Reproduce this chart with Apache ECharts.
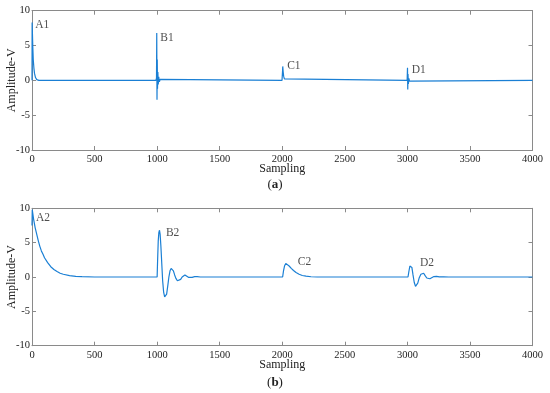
<!DOCTYPE html>
<html>
<head>
<meta charset="utf-8">
<script src="https://cdn.jsdelivr.net/npm/echarts@6/dist/echarts.min.js"></script>
<style>html,body{margin:0;padding:0;background:#fff;}#c{width:550px;height:393px;}</style>
</head>
<body>
<div id="c"></div>
<script>
// ---- data (sample index, amplitude) ----
const signalA = [
  [0,0],[1,8.3],[3,7],[6,5],[10,3],[15,1.8],[20,1],[28,0.4],[38,0.1],[55,0],
  [990,0],[995,0.3],[997,6.8],[999,-2.8],[1001,3],[1003,-1.2],[1006,1.2],[1009,-0.6],[1013,0.5],[1018,-0.2],[1024,0.15],[1032,0],
  [1998,0],[2002,1.2],[2004,2],[2007,1.3],[2011,0.6],[2017,0.2],[2025,0],
  [2998,0],[3001,1.8],[3003,-1.3],[3005,0.9],[3008,-0.5],[3012,0.3],[3017,-0.1],[3024,0],
  [4000,0]
];
const signalB = [
  [0,7.5],[2,9.8],[12,8.5],[25,7.2],[38,6.2],[50,5.3],[62,4.5],[75,3.8],[88,3.3],[100,2.8],[125,2.1],[150,1.5],[175,1.1],[200,0.8],[225,0.55],[250,0.4],[300,0.2],[350,0.1],[400,0.05],[500,0],
  [1000,0],[1004,2.5],[1009,5.3],[1014,6.5],[1019,6.8],[1024,6.2],[1030,4.5],[1037,2],[1044,-0.5],[1052,-2.2],[1060,-2.9],[1068,-3],[1076,-2.5],[1085,-1.3],[1094,0],[1103,0.9],[1112,1.25],[1120,1.27],[1130,0.9],[1140,0.3],[1150,-0.2],[1162,-0.55],[1175,-0.6],[1188,-0.35],[1200,0],[1212,0.25],[1222,0.3],[1235,0.15],[1250,-0.05],[1265,-0.15],[1280,-0.05],[1300,0.05],[1320,0.06],[1345,0],[1400,0],
  [2003,0],[2010,0.9],[2018,1.6],[2028,1.98],[2040,1.9],[2055,1.6],[2072,1.25],[2090,0.95],[2110,0.65],[2135,0.4],[2160,0.22],[2190,0.12],[2230,0.04],[2280,0],
  [3005,0],[3012,0.8],[3020,1.6],[3028,1.89],[3036,1.4],[3045,0.3],[3055,-0.8],[3065,-1.35],[3073,-1.4],[3083,-0.9],[3095,-0.1],[3108,0.4],[3120,0.6],[3130,0.55],[3142,0.2],[3155,-0.15],[3167,-0.32],[3180,-0.25],[3195,-0.05],[3212,0.06],[3233,0.1],[3255,0.03],[3290,0.04],[3330,0],
  [4000,0]
];
const labelsA = [["A1",26,7.95],["B1",1025,6.15],["C1",2039,2.0],["D1",3034,1.5]];
const labelsB = [["A2",32,8.6],["B2",1070,6.36],["C2",2124,2.14],["D2",3100,2.04]];
const xRange = [0, 4000, 500];
const yRange = [-10, 10, 5];

// ---- chart ----
const FONT = '"Liberation Serif", "DejaVu Serif", serif';
const AXC = '#8a8a8a';
const LINE = '#1a7fd4';
const chart = echarts.init(document.getElementById('c'), null, {renderer: 'canvas'});

function xAx(grid, pos, main) {
  return {
    type: 'value', gridIndex: grid, position: pos, min: xRange[0], max: xRange[1], interval: xRange[2],
    name: main ? 'Sampling' : '', nameLocation: 'middle', nameGap: 13, nameMoveOverlap: false,
    nameTextStyle: {fontFamily: FONT, fontSize: 12, color: '#222'},
    axisLine: {show: true, onZero: false, lineStyle: {color: AXC, width: 1}},
    axisTick: {show: true, inside: true, length: 4, lineStyle: {color: AXC}},
    axisLabel: {show: main, fontFamily: FONT, fontSize: 10.5, color: '#222', margin: 4, formatter: v => String(v)},
    splitLine: {show: false}
  };
}
function yAx(grid, pos, main) {
  return {
    type: 'value', gridIndex: grid, position: pos, min: yRange[0], max: yRange[1], interval: yRange[2],
    name: main ? 'Amplitude-V' : '', nameLocation: 'middle', nameGap: 14, nameMoveOverlap: false,
    nameTextStyle: {fontFamily: FONT, fontSize: 12, color: '#222'},
    axisLine: {show: true, onZero: false, lineStyle: {color: AXC, width: 1}},
    axisTick: {show: true, inside: true, length: 4, lineStyle: {color: AXC}},
    axisLabel: {show: main, fontFamily: FONT, fontSize: 10.5, color: '#222', margin: 2, formatter: v => String(v)},
    splitLine: {show: false}
  };
}
function lineSeries(data, ax) {
  return {type: 'line', xAxisIndex: ax, yAxisIndex: ax, data: data, showSymbol: false, symbol: 'none',
    lineStyle: {color: LINE, width: 1.2}, smooth: false, silent: true, z: 3};
}
function labelSeries(lbls, ax) {
  return {type: 'scatter', xAxisIndex: ax, yAxisIndex: ax, symbolSize: 0, silent: true, z: 4,
    data: lbls.map(l => ({value: [l[1], l[2]], name: l[0]})),
    label: {show: true, position: 'right', distance: 0, formatter: p => p.name,
      fontFamily: FONT, fontSize: 11.5, color: '#222'}};
}

chart.setOption({
  animation: false,
  backgroundColor: '#fff',
  grid: [
    {left: 32, right: 17.5, top: 10.7, height: 139.3, containLabel: false, outerBoundsMode: 'none'},
    {left: 32, right: 17.5, top: 208.3, height: 137.4, containLabel: false, outerBoundsMode: 'none'}
  ],
  xAxis: [xAx(0, 'bottom', true), xAx(1, 'bottom', true), xAx(0, 'top', false), xAx(1, 'top', false)],
  yAxis: [yAx(0, 'left', true), yAx(1, 'left', true), yAx(0, 'right', false), yAx(1, 'right', false)],
  title: [
    {text: '({a|a})', left: 'center', top: 173, textStyle: {fontFamily: FONT, fontSize: 13, fontWeight: 'normal', color: '#222', rich: {a: {fontFamily: FONT, fontSize: 13, fontWeight: 'bold', color: '#222'}}}},
    {text: '({a|b})', left: 'center', top: 371, textStyle: {fontFamily: FONT, fontSize: 13, fontWeight: 'normal', color: '#222', rich: {a: {fontFamily: FONT, fontSize: 13, fontWeight: 'bold', color: '#222'}}}}
  ],
  series: [lineSeries(signalA, 0), lineSeries(signalB, 1), labelSeries(labelsA, 0), labelSeries(labelsB, 1)]
});
</script>
</body>
</html>
